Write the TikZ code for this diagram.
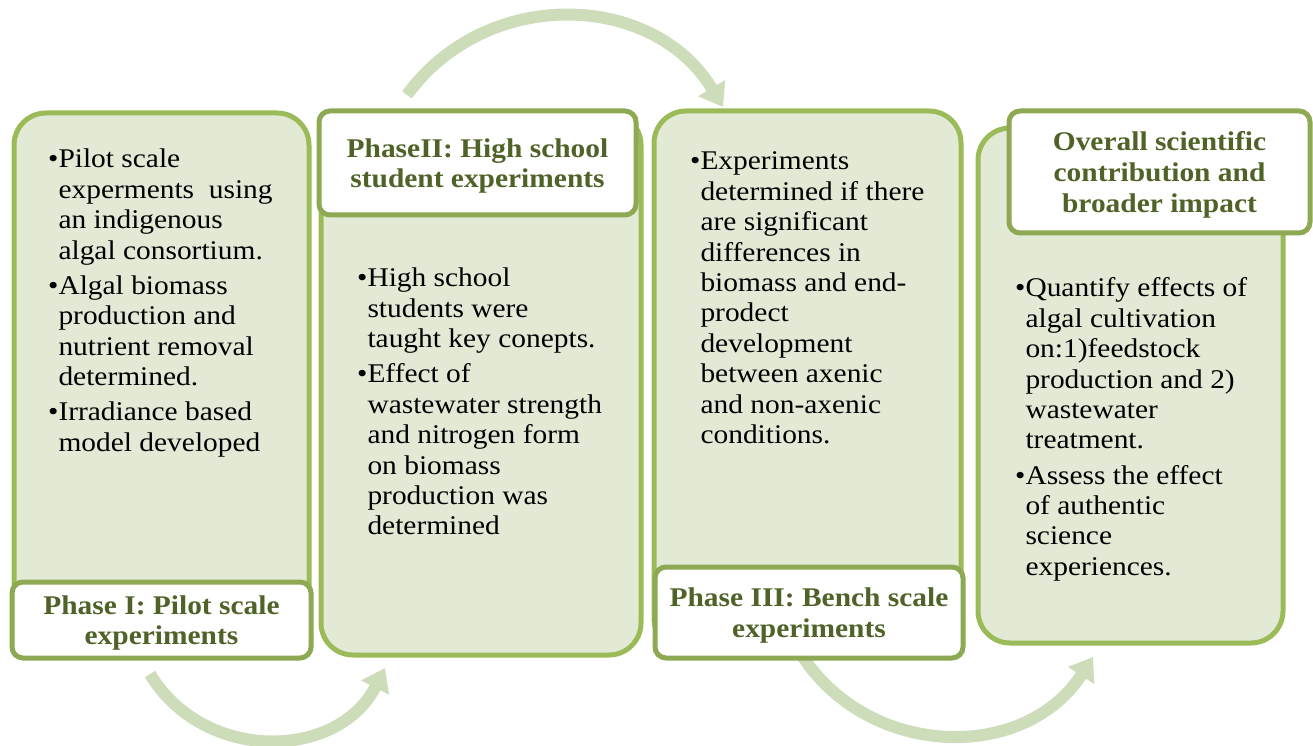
\documentclass[tikz,border=0pt]{standalone}
\usepackage{fontspec}
\setmainfont{Liberation Serif}[FakeStretch=1.09]
\usetikzlibrary{arrows.meta}
\definecolor{boxline}{HTML}{9BBB59}
\definecolor{boxfill}{HTML}{E2EAD6}
\definecolor{lblline}{HTML}{8EA953}
\definecolor{lbltext}{HTML}{4F6228}
\definecolor{arrowgreen}{HTML}{CDDCB9}
\tikzset{
  phase_box/.style = {draw=boxline, fill=boxfill, line width=5pt,
    rounded corners=32pt, inner sep=0pt},% grande boite de phase
  phase_lbl/.style = {draw=lblline, fill=white, line width=5pt,
    rounded corners=11pt, inner sep=0pt, align=center, text=lbltext,
    text depth=0pt, font=\fontsize{27}{30.7}\selectfont\bfseries},% titre de phase
  bullet_txt/.style = {anchor=base west, inner sep=0pt},% texte a puces
  flow_arr/.style = {draw=arrowgreen, line width=12pt,
    -{Triangle[width=30pt,length=22pt]}}% fleche entre phases
}

\begin{document}
\begin{tikzpicture}[x=1pt, y=1pt, font=\fontsize{27}{30.4}\selectfont]
\useasboundingbox (0,0) rectangle (1313,745);
% fleches
\coordinate (a1s) at (150,71);
\coordinate (a1e) at (385,77);
\coordinate (a2s) at (407,650);
\coordinate (a2e) at (723,638);
\coordinate (a3s) at (794,103);
\coordinate (a3e) at (1093,88);
\draw[flow_arr] (a1s) to[out=-59, in=-117, looseness=1.13] (a1e);
\draw[flow_arr] (a2s) to[out=54, in=121, looseness=1.09] (a2e);
\draw[flow_arr] (a3s) to[out=-62, in=-123, looseness=1.12] (a3e);
% boites
\node[phase_box, minimum width=295pt, minimum height=537pt] (p1) at (161.5,363.5) {};
\node[phase_box, minimum width=320pt, minimum height=542pt] (p2) at (481,361) {};
\node[phase_lbl, minimum width=317pt, minimum height=104pt] (p2lbl) at (477.5,582)
  {PhaseII: High school\\ student experiments};
\node[phase_box, minimum width=307pt, minimum height=539pt] (p3) at (807.5,364.5) {};
\node[phase_lbl, minimum width=308pt, minimum height=91pt] (p3lbl) at (809,132.5)
  {Phase III: Bench scale\\ experiments};
\node[phase_box, minimum width=305pt, minimum height=515pt] (p4) at (1130.5,359.5) {};
\node[phase_lbl, minimum width=301pt, minimum height=122pt] (p4lbl) at (1159.5,573)
  {Overall scientific\\ contribution and\\ broader impact};
\node[phase_lbl, minimum width=299pt, minimum height=76pt] (p1lbl) at (161.5,125)
  {Phase I: Pilot scale\\ experiments};
% textes
\node[bullet_txt] (t1) at (48,577) {\begin{tabular}[t]{@{}l@{}l@{}}
  \textbullet & Pilot scale\\
  & experments~ using\\
  & an indigenous\\
  & algal consortium.\\[4.8pt]
  \textbullet & Algal biomass\\
  & production and\\
  & nutrient removal\\
  & determined.\\[4.8pt]
  \textbullet & Irradiance based\\
  & model developed
\end{tabular}};
\node[bullet_txt] (t2) at (357,458) {\begin{tabular}[t]{@{}l@{}l@{}}
  \textbullet & High school\\
  & students were\\
  & taught key conepts.\\[4.8pt]
  \textbullet & Effect of\\
  & wastewater strength\\
  & and nitrogen form\\
  & on biomass\\
  & production was\\
  & determined
\end{tabular}};
\node[bullet_txt] (t3) at (690,575) {\begin{tabular}[t]{@{}l@{}l@{}}
  \textbullet & Experiments\\
  & determined if there\\
  & are significant\\
  & differences in\\
  & biomass and end-\\
  & prodect\\
  & development\\
  & between axenic\\
  & and non-axenic\\
  & conditions.
\end{tabular}};
\node[bullet_txt] (t4) at (1015,448) {\begin{tabular}[t]{@{}l@{}l@{}}
  \textbullet & Quantify effects of\\
  & algal cultivation\\
  & on:1)feedstock\\
  & production and 2)\\
  & wastewater\\
  & treatment.\\[4.8pt]
  \textbullet & Assess the effect\\
  & of authentic\\
  & science\\
  & experiences.
\end{tabular}};
\end{tikzpicture}
\end{document}
